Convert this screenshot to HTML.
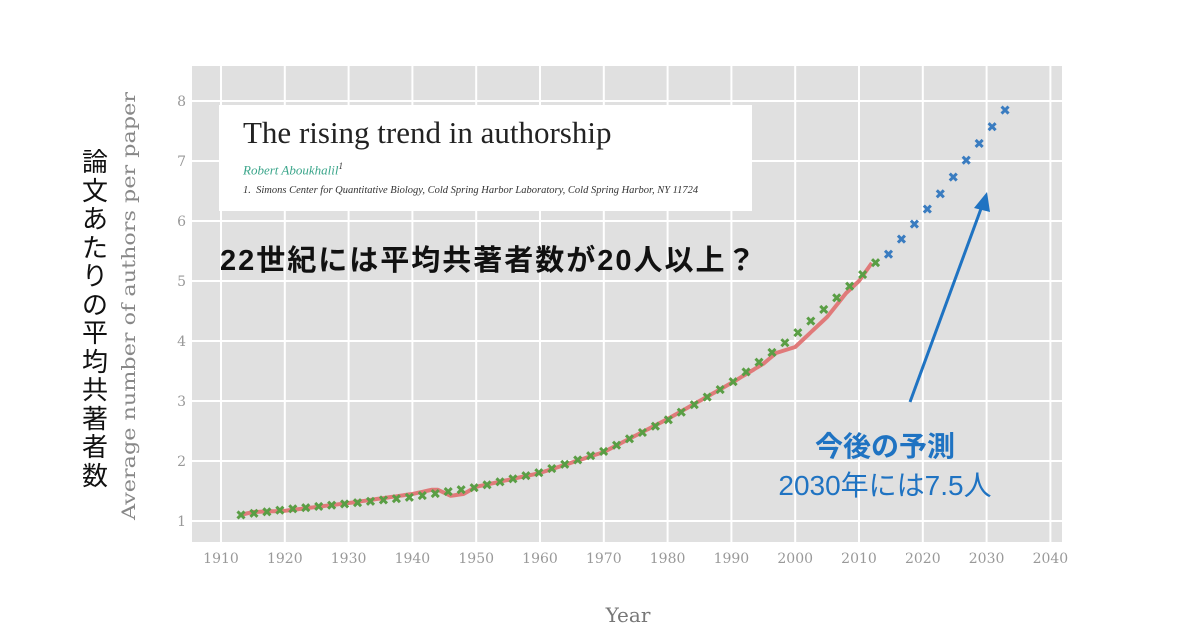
<!DOCTYPE html>
<html><head><meta charset="utf-8"><style>
body{margin:0;background:#fff;width:1200px;height:637px;overflow:hidden;position:relative;font-family:"Liberation Sans","Noto Sans CJK JP",sans-serif}
.a{position:absolute}
</style></head><body>
<svg class="a" style="left:0;top:0" width="1200" height="637" id="s">
<rect x="192" y="66" width="870" height="476" fill="#e0e0e0"/>
<g id="grid" stroke="#fff" stroke-width="2"></g>
<g id="tl" font-family="DejaVu Serif,serif" font-size="14" fill="#999"></g>
<path id="line" fill="none" stroke="#e07a7a" stroke-width="4" stroke-linejoin="round"/>
<g id="mk" stroke-width="3"></g>
<text x="628" y="622" text-anchor="middle" font-family="DejaVu Serif,serif" font-size="20" fill="#777">Year</text>
<text transform="translate(135,306) rotate(-90)" text-anchor="middle" font-family="DejaVu Serif,serif" font-size="19" fill="#888" textLength="428" lengthAdjust="spacingAndGlyphs">Average number of authors per paper</text>
<line x1="910" y1="402" x2="982" y2="206" stroke="#1f73c2" stroke-width="3"/>
<polygon points="987,192 974,208 990,212" fill="#1f73c2"/>
</svg>
<div class="a" style="left:219px;top:105px;width:533px;height:106px;background:#fff">
<div class="a" style="left:24px;top:10px;font-family:'Liberation Serif',serif;font-size:31px;color:#222">The rising trend in authorship</div>
<div class="a" style="left:24px;top:56px;font-family:'Liberation Serif',serif;font-style:italic;font-size:13px;color:#3aa58a">Robert Aboukhalil<sup style="color:#333;font-size:9px">1</sup></div>
<div class="a" style="left:24px;top:80px;font-family:'Liberation Serif',serif;font-style:italic;font-size:10.5px;color:#333;white-space:nowrap">1.&nbsp; Simons Center for Quantitative Biology, Cold Spring Harbor Laboratory, Cold Spring Harbor, NY 11724</div>
</div>
<div class="a" style="left:220px;top:237px;font-size:29px;letter-spacing:2px;font-weight:bold;color:#111;white-space:nowrap">22世紀には平均共著者数が20人以上？</div>
<div class="a" style="left:80px;top:148px;width:30px;font-size:26px;line-height:28.5px;color:#111;text-align:center">論文あたりの平均共著者数</div>
<div class="a" style="left:760px;top:425px;width:250px;text-align:center;font-size:28px;font-weight:bold;color:#1f73c2;white-space:nowrap">今後の予測</div>
<div class="a" style="left:735px;top:464px;width:300px;text-align:center;font-size:28px;color:#1f73c2;white-space:nowrap">2030年には7.5人</div>
<script>
const X=y=>221+(y-1910)*6.38, Y=v=>521-(v-1)*60, Yr=x=>1910+(x-221)/6.38;
const ns="http://www.w3.org/2000/svg";
function el(p,t,a){const e=document.createElementNS(ns,t);for(const k in a)e.setAttribute(k,a[k]);p.appendChild(e);return e}
const g=document.getElementById('grid'),tl=document.getElementById('tl');
for(let y=1910;y<=2040;y+=10){el(g,'line',{x1:X(y),x2:X(y),y1:66,y2:542});const t=el(tl,'text',{x:X(y),y:563,'text-anchor':'middle'});t.textContent=y}
for(let v=1;v<=8;v++){el(g,'line',{x1:192,x2:1062,y1:Y(v),y2:Y(v)});const t=el(tl,'text',{x:186,y:Y(v)+5,'text-anchor':'end'});t.textContent=v}
function interp(a,x){for(let i=0;i<a.length-1;i++){if(x<=a[i+1][0]){const[t0,v0]=a[i],[t1,v1]=a[i+1];return v0+(v1-v0)*(x-t0)/(t1-t0)}}return a[a.length-1][1]}
const la=[[1913,1.1],[1915,1.15],[1920,1.17],[1930,1.3],[1940,1.45],[1943,1.52],[1944,1.52],[1946,1.42],[1948,1.45],[1950,1.57],[1960,1.8],[1970,2.15],[1980,2.7],[1990,3.3],[1995,3.62],[1997,3.8],[2000,3.9],[2005,4.4],[2008,4.8],[2010,5.0],[2012,5.3]];
let d='';for(let y=1913;y<=2012;y+=0.5)d+=(d?'L':'M')+X(y).toFixed(1)+','+Y(interp(la,y)).toFixed(1);
document.getElementById('line').setAttribute('d',d);
const ma=[[1913,1.1],[1920,1.19],[1930,1.29],[1940,1.4],[1950,1.56],[1960,1.81],[1970,2.16],[1980,2.68],[1990,3.3],[2000,4.1],[2010.5,5.1],[2012.5,5.3],[2014.4,5.42],[2022.5,6.42],[2030.7,7.55],[2032.9,7.85]];
const mk=document.getElementById('mk');
for(let k=0;k<=59;k++){const x=241+k*12.95,v=Y(interp(ma,Yr(x))),c=k<=49?'#5a9e45':'#3a7cc0',s=3.5;
el(mk,'path',{d:`M${x-s},${v-s}L${x+s},${v+s}M${x-s},${v+s}L${x+s},${v-s}`,stroke:c})}
</script>
</body></html>
